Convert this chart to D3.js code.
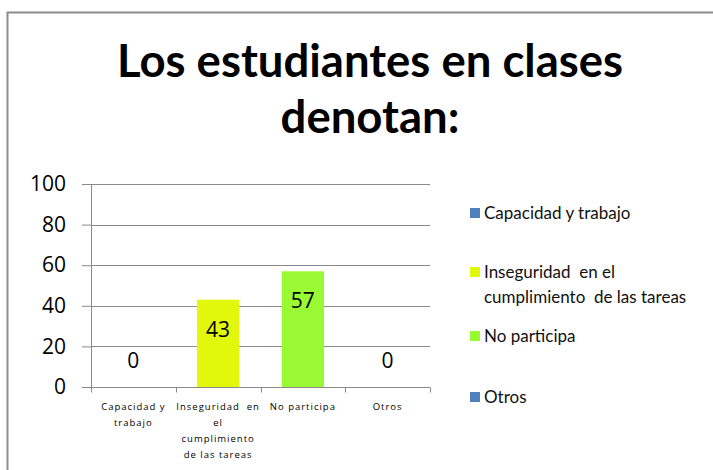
<!DOCTYPE html>
<html>
<head>
<meta charset="utf-8">
<script src="https://cdn.jsdelivr.net/npm/d3@7"></script>
<style>
body { margin: 0; background: #fff; }
</style>
</head>
<body>
<div id="chart"></div>
<script>
// DATA
const categories = ["Capacidad y trabajo", "Inseguridad  en el cumplimiento de las tareas", "No participa", "Otros"];
const values = [0, 43, 57, 0];
const colors = ["#4F81BD", "#E1F70B", "#99FA33", "#4F81BD"];
const yTicks = [0, 20, 40, 60, 80, 100];
const axisLines = [["Capacidad y", "trabajo"], ["Inseguridad  en", "el", "cumplimiento", "de las tareas"], ["No participa"], ["Otros"]];
const legendLines = [["Capacidad y trabajo"], ["Inseguridad  en el", "cumplimiento  de las tareas"], ["No participa"], ["Otros"]];
const titleLines = ["Los estudiantes en clases", "denotan:"];

// keep double spaces visible
function keepSpaces(s) { return s.replace(/  /g, "\u00a0 "); }

// SVG CANVAS
const width = 713, height = 470;
const margin = {top: 184, left: 91, right: 283, bottom: 83};
const svg = d3.select("#chart").append("svg")
    .attr("width", width)
    .attr("height", height)
    .style("font-family", "'Open Sans', sans-serif");

// frame
svg.append("path")
    .attr("d", `M7.5,${height} V12.5 H${width}`)
    .attr("fill", "none")
    .attr("stroke", "#8c8c8c")
    .attr("stroke-width", 2);

// TITLE
svg.selectAll(".title")
    .data(titleLines)
    .enter()
    .append("text")
    .attr("class", "title")
    .attr("x", 370)
    .attr("y", function(d, i) { return 77 + i * 56; })
    .attr("text-anchor", "middle")
    .style("font-family", "Lato, sans-serif")
    .style("font-weight", "bold")
    .style("font-size", "45.5px")
    .attr("fill", "#000")
    .text(function(d) { return d; });

// SCALES
const xScale = d3.scaleBand()
    .domain(categories)
    .range([margin.left, width - margin.right]);

const yScale = d3.scaleLinear()
    .domain([0, 100])
    .range([height - margin.bottom, margin.top]);

// GRID
svg.append("g")
    .selectAll("line")
    .data(yTicks.slice(1))
    .enter()
    .append("line")
    .attr("x1", margin.left)
    .attr("x2", width - margin.right)
    .attr("y1", function(d) { return Math.round(yScale(d)) + 0.5; })
    .attr("y2", function(d) { return Math.round(yScale(d)) + 0.5; })
    .attr("stroke", "#8a8a8a");

// AXES
const yAxis = svg.append("g")
    .attr("transform", `translate(${margin.left},0)`)
    .call(d3.axisLeft(yScale).tickValues(yTicks).tickSize(9).tickPadding(16));
yAxis.selectAll("line, path").attr("stroke", "#8a8a8a");
yAxis.select(".domain").attr("d", `M0.5,${yScale(100)}V${yScale(0)}`);
yAxis.selectAll("text")
    .style("font-size", "21px")
    .style("font-family", "'Open Sans', sans-serif")
    .attr("fill", "#000");

// BARS
svg.selectAll(".bar")
    .data(values)
    .enter()
    .append("rect")
    .attr("class", "bar")
    .attr("x", function(d, i) { return xScale(categories[i]) + xScale.bandwidth() * 0.25; })
    .attr("y", function(d) { return yScale(d); })
    .attr("width", xScale.bandwidth() * 0.5)
    .attr("height", function(d) { return yScale(0) - yScale(d); })
    .attr("fill", function(d, i) { return colors[i]; });

// x axis line + ticks
const xAxis = svg.append("g")
    .attr("transform", `translate(0,${Math.round(yScale(0)) + 0.5})`);
xAxis.append("line")
    .attr("x1", margin.left - 9)
    .attr("x2", width - margin.right)
    .attr("stroke", "#8a8a8a");
xAxis.selectAll(".tick")
    .data(categories.concat([null]))
    .enter()
    .append("line")
    .attr("x1", function(d, i) { return Math.round(margin.left + i * xScale.step()) + 0.5; })
    .attr("x2", function(d, i) { return Math.round(margin.left + i * xScale.step()) + 0.5; })
    .attr("y1", 0)
    .attr("y2", 5)
    .attr("stroke", "#8a8a8a");

// category labels
const catLabels = svg.selectAll(".cat")
    .data(axisLines)
    .enter()
    .append("text")
    .attr("class", "cat")
    .attr("text-anchor", "middle")
    .style("font-size", "9.5px")
    .attr("letter-spacing", 1)
    .attr("fill", "#000");
catLabels.each(function(lines, i) {
    d3.select(this).selectAll("tspan")
        .data(lines)
        .enter()
        .append("tspan")
        .attr("x", xScale(categories[i]) + xScale.bandwidth() / 2)
        .attr("y", function(d, j) { return 410 + j * 16; })
        .text(function(d) { return keepSpaces(d); });
});

// VALUE LABELS
svg.selectAll(".val")
    .data(values)
    .enter()
    .append("text")
    .attr("class", "val")
    .attr("x", function(d, i) { return xScale(categories[i]) + xScale.bandwidth() / 2; })
    .attr("y", function(d) { return d > 0 ? yScale(d) + 37 : yScale(d) - 19; })
    .attr("text-anchor", "middle")
    .style("font-size", "21px")
    .attr("fill", "#000")
    .text(function(d) { return d; });

// LEGEND
const legendY = [213, 272, 336, 397];
const legend = svg.selectAll(".legend")
    .data(categories)
    .enter()
    .append("g")
    .attr("class", "legend")
    .attr("transform", function(d, i) { return `translate(470,${legendY[i]})`; });
legend.append("rect")
    .attr("x", 0)
    .attr("y", -5)
    .attr("width", 10)
    .attr("height", 10)
    .attr("fill", function(d, i) { return colors[i]; });
legend.append("text")
    .style("font-size", "17px")
    .style("font-family", "Lato, sans-serif")
    .attr("fill", "#111")
    .each(function(d, i) {
        d3.select(this).selectAll("tspan")
            .data(legendLines[i])
            .enter()
            .append("tspan")
            .attr("x", 14)
            .attr("y", function(t, j) { return 6 + j * 25; })
            .text(function(t) { return keepSpaces(t); });
    });
</script>
</body>
</html>
